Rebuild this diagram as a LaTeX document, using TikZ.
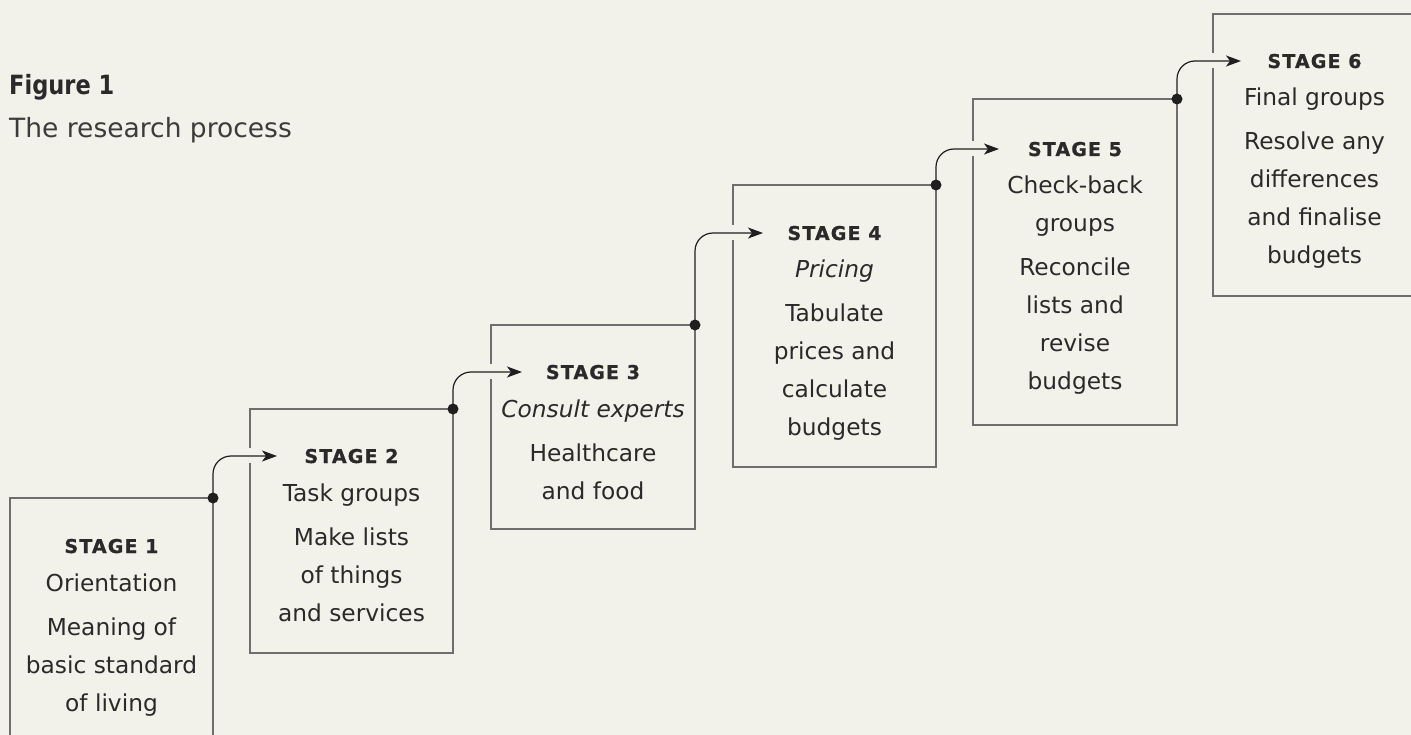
\documentclass[tikz,border=0pt]{standalone}
\usepackage{fontspec}
\setmainfont{DejaVu Sans}
\newfontfamily\stagefont{DejaVu Sans}[LetterSpace=6,FakeBold=0.8]
\newfontfamily\figfont{DejaVu Sans}[FakeStretch=0.85]
\usetikzlibrary{arrows.meta}
\definecolor{bg}{HTML}{F2F1EA}
\definecolor{ink}{HTML}{2A2A2A}
\definecolor{inklight}{HTML}{3C3C3C}
\definecolor{framec}{HTML}{6E6E6E}
\definecolor{arrc}{HTML}{1F1F1F}
\newcommand{\stg}[1]{{\stagefont\bfseries\fontsize{19}{38}\selectfont #1}}
\tikzset{
  boxarea/.style={rectangle, inner sep=0pt, outer sep=0pt, anchor=north west},
  boxline/.style={draw=framec, line width=1.4pt, line join=miter},
  flow/.style={draw=arrc, line width=1.2pt, rounded corners=18pt,
    -{Stealth[length=15pt,width=11pt,inset=4pt]}},
  stext/.style={anchor=base, inner sep=0pt, outer sep=0pt, text=ink,
    font=\fontsize{23.3}{38}\selectfont},
  dotmark/.style={fill=arrc}
}
\begin{document}
\begin{tikzpicture}[x=1pt,y=-1pt]
\fill[bg] (0,0) rectangle (1411,735);
\useasboundingbox (0,0) rectangle (1411,735);

% title
\node[anchor=base west, inner sep=0pt, text=ink, font=\figfont\bfseries\fontsize{26.5}{30}\selectfont] (fig) at (9,95) {Figure 1};
\node[anchor=base west, inner sep=0pt, text=inklight, font=\fontsize{26.5}{30}\selectfont] (sub) at (9,138) {The research process};

% box areas
\node[boxarea, minimum width=203pt, minimum height=250pt] (b1) at (10,498) {};
\node[boxarea, minimum width=203pt, minimum height=244pt] (b2) at (250,409) {};
\node[boxarea, minimum width=204pt, minimum height=204pt] (b3) at (491,325) {};
\node[boxarea, minimum width=203pt, minimum height=282pt] (b4) at (733,185) {};
\node[boxarea, minimum width=204pt, minimum height=326pt] (b5) at (973,99) {};
\node[boxarea, minimum width=203pt, minimum height=282pt] (b6) at (1213,14) {};

% outlines (left edges broken where the arrows enter)
\draw[boxline] (b1.south west) -- (b1.north west) -- (b1.north east) -- (b1.south east);
\draw[boxline] (b2.west |- 0,448) -- (b2.north west) -- (b2.north east) -- (b2.south east) -- (b2.south west) -- (b2.west |- 0,463);
\draw[boxline] (b3.west |- 0,364) -- (b3.north west) -- (b3.north east) -- (b3.south east) -- (b3.south west) -- (b3.west |- 0,379);
\draw[boxline] (b4.west |- 0,225) -- (b4.north west) -- (b4.north east) -- (b4.south east) -- (b4.south west) -- (b4.west |- 0,240);
\draw[boxline] (b5.west |- 0,141) -- (b5.north west) -- (b5.north east) -- (b5.south east) -- (b5.south west) -- (b5.west |- 0,156);
\draw[boxline] (b6.west |- 0,53) -- (b6.north west) -- (b6.north east) -- (b6.south east) -- (b6.south west) -- (b6.west |- 0,68);

% texts
\node[stext] (s1) at (111.5,553) {\begin{tabular}[t]{@{}c@{}}\stg{STAGE 1}\\ Orientation\\[6pt] Meaning of\\ basic standard\\ of living\end{tabular}};
\node[stext] (s2) at (351.5,463) {\begin{tabular}[t]{@{}c@{}}\stg{STAGE 2}\\ Task groups\\[6pt] Make lists\\ of things\\ and services\end{tabular}};
\node[stext] (s3) at (593,379) {\begin{tabular}[t]{@{}c@{}}\stg{STAGE 3}\\ \itshape Consult experts\\[6pt] Healthcare\\ and food\end{tabular}};
\node[stext] (s4) at (834.5,240) {\begin{tabular}[t]{@{}c@{}}\stg{STAGE 4}\\ \itshape Pricing\\[6pt] Tabulate\\ prices and\\ calculate\\ budgets\end{tabular}};
\node[stext] (s5) at (1075,156) {\begin{tabular}[t]{@{}c@{}}\stg{STAGE 5}\\ Check-back\\ groups\\[6pt] Reconcile\\ lists and\\ revise\\ budgets\end{tabular}};
\node[stext] (s6) at (1314.5,68) {\begin{tabular}[t]{@{}c@{}}\stg{STAGE 6}\\ Final groups\\[6pt] Resolve any\\ differences\\ and finalise\\ budgets\end{tabular}};

% arrow tips
\coordinate (t2) at (277,456);
\coordinate (t3) at (522,372);
\coordinate (t4) at (763,233);
\coordinate (t5) at (999,149);
\coordinate (t6) at (1241,61);

\draw[flow] (b1.north east) |- (t2);
\draw[flow] (b2.north east) |- (t3);
\draw[flow] (b3.north east) |- (t4);
\draw[flow] (b4.north east) |- (t5);
\draw[flow] (b5.north east) |- (t6);

\fill[dotmark] (b1.north east) circle[radius=5.5pt];
\fill[dotmark] (b2.north east) circle[radius=5.5pt];
\fill[dotmark] (b3.north east) circle[radius=5.5pt];
\fill[dotmark] (b4.north east) circle[radius=5.5pt];
\fill[dotmark] (b5.north east) circle[radius=5.5pt];
\end{tikzpicture}
\end{document}
